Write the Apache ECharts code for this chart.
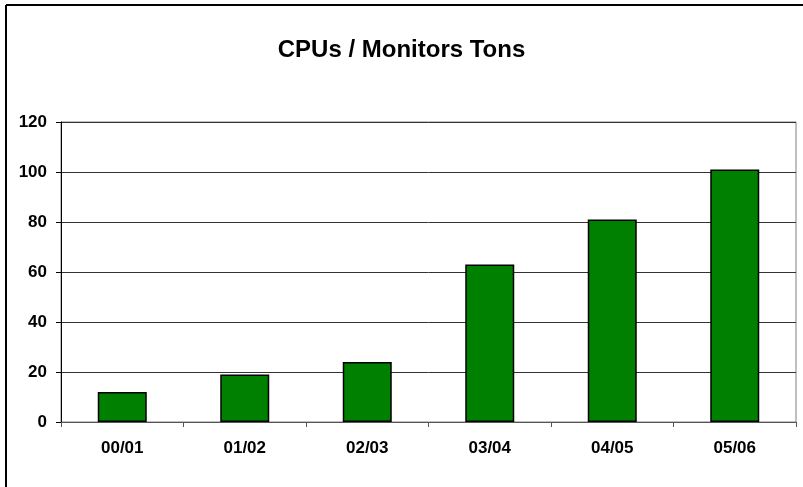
<!DOCTYPE html>
<html>
<head>
<meta charset="utf-8">
<script src="https://cdn.jsdelivr.net/npm/echarts@6/dist/echarts.min.js"></script>
<style>
  html, body { margin: 0; padding: 0; background: #fff; }
  #chart { width: 803px; height: 487px; }
</style>
</head>
<body>
<div id="chart"></div>
<script>
// data
const years = ["00/01", "01/02", "02/03", "03/04", "04/05", "05/06"];
const tons = [12, 19, 24, 63, 81, 101];
const yTicks = [0, 20, 40, 60, 80, 100, 120];

const font = "'Liberation Sans', Arial, sans-serif";

const chart = echarts.init(document.getElementById("chart"), null, { renderer: "canvas" });

chart.setOption({
  backgroundColor: "#fff",
  animation: false,
  title: {
    text: "CPUs / Monitors Tons",
    left: "center",
    top: 33,
    textStyle: { fontFamily: font, fontSize: 24, fontWeight: "bold", color: "#000" }
  },
  graphic: [
    // outer chart frame (only left + top are visible in the picture)
    { type: "line", shape: { x1: 6, y1: 5, x2: 6, y2: 487 }, style: { stroke: "#000", lineWidth: 2 } },
    { type: "line", shape: { x1: 6, y1: 5, x2: 803, y2: 5 }, style: { stroke: "#000", lineWidth: 2 } }
  ],
  grid: {
    left: 61, right: 7, top: 122, bottom: 65,
    show: true, borderColor: "#808080", borderWidth: 1
  },
  xAxis: {
    type: "category",
    data: years,
    axisLine: { lineStyle: { color: "#555" } },
    axisTick: { show: true, length: 5, lineStyle: { color: "#555" } },
    axisLabel: { margin: 18, fontFamily: font, fontSize: 17, fontWeight: "bold", color: "#000" }
  },
  yAxis: {
    type: "value",
    min: yTicks[0],
    max: yTicks[yTicks.length - 1],
    interval: 20,
    axisLine: { show: true, lineStyle: { color: "#000" } },
    axisTick: { show: true, length: 5, lineStyle: { color: "#000" } },
    axisLabel: { margin: 14, fontFamily: font, fontSize: 17, fontWeight: "bold", color: "#000" },
    splitLine: { lineStyle: { color: "#333", width: 1 } }
  },
  series: [{
    type: "bar",
    data: tons,
    barCategoryGap: "60%",
    itemStyle: { color: "#008000", borderColor: "#000", borderWidth: 1.5 }
  }]
});
</script>
</body>
</html>
